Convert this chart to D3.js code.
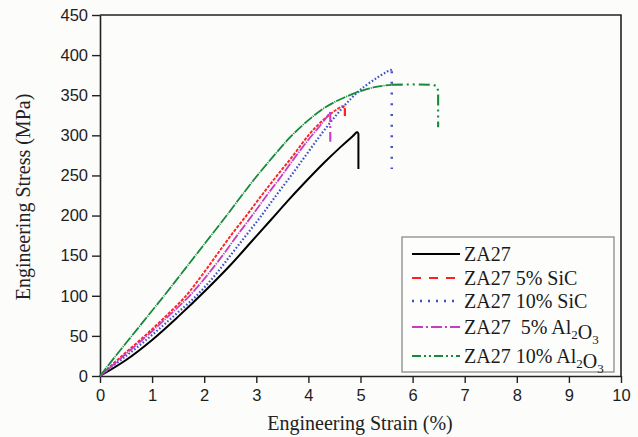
<!DOCTYPE html>
<html><head><meta charset="utf-8">
<script src="https://cdn.jsdelivr.net/npm/d3@7"></script>
<style>
body{margin:0;background:#fcfcfa}
svg{display:block}
</style>
</head><body>
<svg id="chart" width="638" height="437"></svg>
<script>
// ---- data ----
const xTicks = [0,1,2,3,4,5,6,7,8,9,10];
const yTicks = [0,50,100,150,200,250,300,350,400,450];

const za27Strain   = [0,0.5,1.0,1.5,2.0,2.5,2.9,3.3,3.6,3.9,4.32,4.61,4.85,4.94,4.96,4.96];
const za27Stress   = [0,20,45,74,105,138,167,196,218,239,267,285,299,304,302,258];

const sic5Strain   = [0,0.42,0.86,1.27,1.65,1.95,2.23,2.51,2.81,3.1,3.4,3.71,4.0,4.2,4.41,4.55,4.64,4.68,4.70,4.70];
const sic5Stress   = [0,25,50,75,100,125,150,175,200,225,250,275,300,314,326,332.5,336,336,334,318];

const sic10Strain  = [0,0.5,0.98,1.42,1.85,2.2,2.5,2.8,3.1,3.38,3.67,3.95,4.23,4.52,4.82,5.02,5.3,5.5,5.58,5.60,5.60];
const sic10Stress  = [0,25,50,75,100,125,150,175,200,225,250,275,300,324,346,358,371,379,381.5,380,258];

const al5Strain    = [0,0.45,0.9,1.32,1.72,2.05,2.35,2.63,2.92,3.2,3.49,3.77,4.03,4.25,4.41,4.42,4.42];
const al5Stress    = [0,25,50,75,100,125,150,175,200,225,250,275,297,314,328,329,292];

const al10Strain   = [0,0.30,0.61,0.92,1.23,1.53,1.83,2.13,2.43,2.72,3.02,3.33,3.64,4.0,4.35,4.7,5.02,5.3,5.6,6.0,6.4,6.47,6.49,6.49];
const al10Stress   = [0,25,50,75,100,125,150,175,200,225,250,274,297,319,336,347.5,355.5,360.5,363,363.5,363,361,355,310];

const legendLabels = ["ZA27","ZA27 5% SiC","ZA27 10% SiC","ZA27  5% Al_2O_3","ZA27 10% Al_2O_3"];

// ---- styles ----
const series = [
  {strain: za27Strain,  stress: za27Stress,  color:"#000000", width:2.0, dense:null, sparse:null, legendDash:null, tail:0},
  {strain: sic5Strain,  stress: sic5Stress,  color:"#ff1f1f", width:1.9, dense:"3.2,1.4", sparse:"8,6", legendDash:"9,8", tail:2},
  {strain: sic10Strain, stress: sic10Stress, color:"#3f50c8", width:2.2, dense:"1.6,2.0", sparse:"2,8.7", legendDash:"2,6", tail:2},
  {strain: al5Strain,   stress: al5Stress,   color:"#c63cc3", width:1.8, dense:"9,1.2,1.2,1.2", sparse:"10,4,2,4", legendDash:"11,3,2,3", tail:2},
  {strain: al10Strain,  stress: al10Stress,  color:"#168a3c", width:1.8, dense:"10,1,1,1", sparse:"11,4,2,4,2,4", legendDash:"9,3,2,3,2,3", tail:6}
];

const svg = d3.select("#chart");
const x = d3.scaleLinear().domain([0,10]).range([100,621]);
const y = d3.scaleLinear().domain([0,450]).range([376,15]);

// frame (top & right)
svg.append("path")
  .attr("d", `M${x(0)},${y(450)}H${x(10)}V${y(0)}`)
  .attr("fill","none").attr("stroke","#222").attr("stroke-width",1.6);

const xAxis = svg.append("g").attr("transform",`translate(0,${y(0)})`)
  .call(d3.axisBottom(x).tickValues(xTicks).tickSize(7).tickSizeOuter(0).tickPadding(6).tickFormat(d3.format("d")));
const yAxis = svg.append("g").attr("transform",`translate(${x(0)},0)`)
  .call(d3.axisLeft(y).tickValues(yTicks).tickSize(8).tickSizeOuter(0).tickPadding(4).tickFormat(d3.format("d")));
[xAxis,yAxis].forEach(a=>{
  a.select(".domain").attr("stroke","#222").attr("stroke-width",1.6);
  a.selectAll(".tick line").attr("stroke","#222").attr("stroke-width",1.4);
  a.selectAll(".tick text").attr("fill","#1e1e1e").style("font-family","'Liberation Sans',Arial,sans-serif").style("font-size","16.5px");
});

// axis titles
svg.append("text").attr("x",360).attr("y",430).attr("text-anchor","middle")
  .style("font-family","'Liberation Serif','Times New Roman',serif").style("font-size","20px").attr("fill","#222")
  .text("Engineering Strain (%)");
svg.append("text").attr("transform","translate(30,197) rotate(-90)").attr("text-anchor","middle")
  .style("font-family","'Liberation Serif','Times New Roman',serif").style("font-size","20px").attr("fill","#222")
  .text("Engineering Stress (MPa)");

// curves
const smooth = d3.line().x(d=>x(d[0])).y(d=>y(d[1])).curve(d3.curveCatmullRom.alpha(0.5));
const straight = d3.line().x(d=>x(d[0])).y(d=>y(d[1]));
const curves = svg.append("g");
series.forEach(s=>{
  const pts = s.strain.map((v,i)=>[v, s.stress[i]]);
  const n = pts.length;
  if (!s.tail) {
    curves.append("path").attr("d", smooth(pts.slice(0, n-1)) + "L" + x(pts[n-1][0]) + "," + y(pts[n-1][1]))
      .attr("fill","none").attr("stroke",s.color).attr("stroke-width",s.width).attr("stroke-linejoin","round");
    return;
  }
  const body = pts.slice(0, n - s.tail + 1);
  curves.append("path").attr("d", smooth(body))
    .attr("fill","none").attr("stroke",s.color).attr("stroke-width",s.width)
    .attr("stroke-linejoin","round")
    .attr("stroke-dasharray", s.dense);
  const tail = pts.slice(n - s.tail);
  curves.append("path").attr("d", straight(tail))
    .attr("fill","none").attr("stroke",s.color).attr("stroke-width",s.width+0.3)
    .attr("stroke-linejoin","round")
    .attr("stroke-dasharray", s.sparse);
});

// legend
const lg = svg.append("g");
lg.append("rect").attr("x",402).attr("y",237).attr("width",212).attr("height",135)
  .attr("fill","#fdfdfc").attr("stroke","#808080").attr("stroke-width",1.2);
const rowY = [254,278,301,327,356];
series.forEach((s,i)=>{
  lg.append("line").attr("x1",412).attr("x2",460).attr("y1",rowY[i]).attr("y2",rowY[i])
    .attr("stroke",s.color).attr("stroke-width",s.width+0.2)
    .attr("stroke-dasharray", s.legendDash);
  const t = lg.append("text").attr("x",464).attr("y",rowY[i]+6.5)
    .style("font-family","'Liberation Serif','Times New Roman',serif").style("font-size","20px")
    .attr("fill","#1a1a1a").style("white-space","pre");
  const parts = legendLabels[i].split(/(_\d)/);
  parts.forEach(p=>{
    if (!p) return;
    if (p.startsWith("_")) {
      t.append("tspan").attr("dy",5).style("font-size","13px").text(p.slice(1));
      t.append("tspan").attr("dy",-5).text("");
    } else {
      t.append("tspan").text(p);
    }
  });
});
</script>
</body></html>
